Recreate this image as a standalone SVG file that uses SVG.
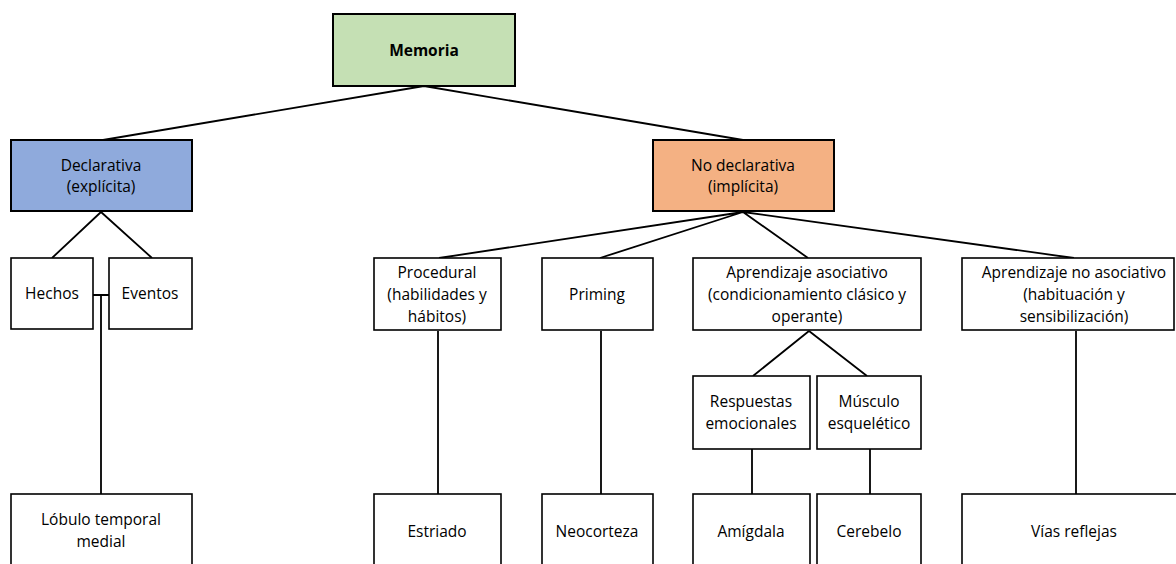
<svg xmlns="http://www.w3.org/2000/svg" width="1176" height="564" viewBox="0 0 1176 564">
<style>
.box{fill:#ffffff;stroke:#000000;stroke-width:1.6}
.main{stroke:#000000;stroke-width:2}
.t{font-family:"Open Sans","Liberation Sans",sans-serif;font-size:15.5px;fill:#000000;text-anchor:middle}
.b{font-weight:bold}
.c{fill:none;stroke:#000000;stroke-width:1.8}
</style>
<rect width="1176" height="564" fill="#ffffff"/>
<g id="connectors">
<path class="c" d="M424,86 L103,140 M424,86 L743,140"/>
<path class="c" d="M101,212 L52,258 M101,212 L152,258"/>
<path class="c" d="M93,295 L109,295 M101,295 L101,494"/>
<path class="c" d="M743,212 L439,258 M743,212 L600,258 M743,212 L808,258 M743,212 L1074,258"/>
<path class="c" d="M438,331 L438,494 M601,331 L601,494"/>
<path class="c" d="M809,331 L753,376 M809,331 L867,376"/>
<path class="c" d="M752,449 L752,494 M870,449 L870,494"/>
<path class="c" d="M1076,331 L1076,494"/>
</g>
<g id="memoria">
<rect class="main" x="333" y="14" width="182" height="72" fill="#c5e0b4"/>
<text class="t b" x="424" y="56">Memoria</text>
</g>
<g id="declarativa">
<rect class="main" x="11" y="140" width="181" height="71" fill="#8faadc"/>
<text class="t" x="101" y="171">Declarativa</text>
<text class="t" x="101" y="192">(explícita)</text>
</g>
<g id="nodeclarativa">
<rect class="main" x="653" y="140" width="181" height="71" fill="#f4b183"/>
<text class="t" x="743" y="171">No declarativa</text>
<text class="t" x="743" y="192">(implícita)</text>
</g>
<g id="hechos">
<rect class="box" x="11" y="258" width="82" height="71"/>
<text class="t" x="52" y="299">Hechos</text>
</g>
<g id="eventos">
<rect class="box" x="109" y="258" width="83" height="71"/>
<text class="t" x="150" y="299">Eventos</text>
</g>
<g id="lobulo">
<rect class="box" x="11" y="494" width="181" height="90"/>
<text class="t" x="101" y="525">Lóbulo temporal</text>
<text class="t" x="101" y="547">medial</text>
</g>
<g id="procedural">
<rect class="box" x="374" y="258" width="127" height="72"/>
<text class="t" x="437" y="278">Procedural</text>
<text class="t" x="437" y="300">(habilidades y</text>
<text class="t" x="437" y="322">hábitos)</text>
</g>
<g id="priming">
<rect class="box" x="542" y="258" width="111" height="72"/>
<text class="t" x="597" y="300">Priming</text>
</g>
<g id="asociativo">
<rect class="box" x="693" y="258" width="228" height="72"/>
<text class="t" x="807" y="278">Aprendizaje asociativo</text>
<text class="t" x="807" y="300">(condicionamiento clásico y</text>
<text class="t" x="807" y="322">operante)</text>
</g>
<g id="noasociativo">
<rect class="box" x="962" y="258" width="212" height="72"/>
<text class="t" x="1074" y="278">Aprendizaje no asociativo</text>
<text class="t" x="1074" y="300">(habituación y</text>
<text class="t" x="1074" y="322">sensibilización)</text>
</g>
<g id="respuestas">
<rect class="box" x="693" y="376" width="117" height="73"/>
<text class="t" x="751" y="407">Respuestas</text>
<text class="t" x="751" y="429">emocionales</text>
</g>
<g id="musculo">
<rect class="box" x="817" y="376" width="104" height="73"/>
<text class="t" x="869" y="407">Músculo</text>
<text class="t" x="869" y="429">esquelético</text>
</g>
<g id="estriado">
<rect class="box" x="374" y="494" width="127" height="90"/>
<text class="t" x="437" y="537">Estriado</text>
</g>
<g id="neocorteza">
<rect class="box" x="542" y="494" width="111" height="90"/>
<text class="t" x="597" y="537">Neocorteza</text>
</g>
<g id="amigdala">
<rect class="box" x="693" y="494" width="117" height="90"/>
<text class="t" x="751" y="537">Amígdala</text>
</g>
<g id="cerebelo">
<rect class="box" x="817" y="494" width="104" height="90"/>
<text class="t" x="869" y="537">Cerebelo</text>
</g>
<g id="vias">
<rect class="box" x="962" y="494" width="230" height="90"/>
<text class="t" x="1074" y="537">Vías reflejas</text>
</g>
</svg>
